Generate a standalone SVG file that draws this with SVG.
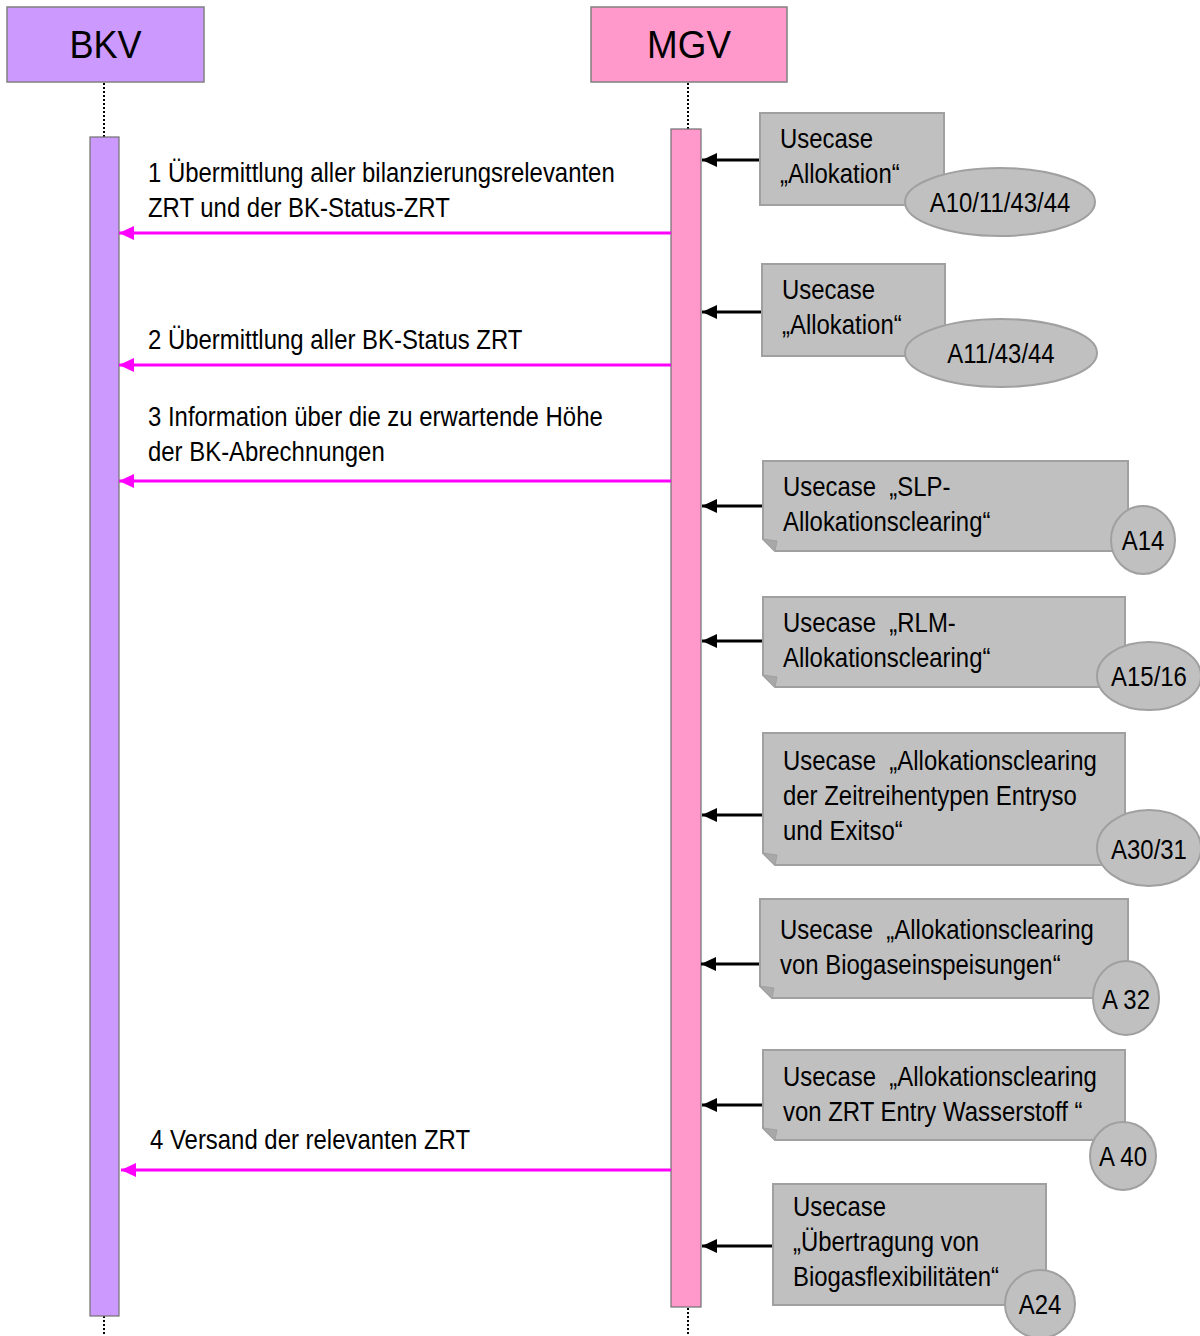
<svg xmlns="http://www.w3.org/2000/svg" width="1200" height="1336" viewBox="0 0 1200 1336">
<defs>
<marker id="mag" markerWidth="15" markerHeight="14" refX="15" refY="7" orient="auto" markerUnits="userSpaceOnUse"><path d="M0,0 L15,7 L0,14 Z" fill="#FF00FF"/></marker>
<marker id="blk" markerWidth="15" markerHeight="14" refX="15" refY="7" orient="auto" markerUnits="userSpaceOnUse"><path d="M0,0 L15,7 L0,14 Z" fill="#000"/></marker>
<style>
text{font-family:"Liberation Sans",Arial,sans-serif;fill:#000}
.t{font-size:28.5px}
.h{font-size:38px;text-anchor:middle}
.c{font-size:28.5px;text-anchor:middle}
.note{fill:#C0C0C0;stroke:#A0A0A0;stroke-width:2}
.fold{fill:#A8A8A8;stroke:#A0A0A0;stroke-width:1}
.badge{fill:#C0C0C0;stroke:#A0A0A0;stroke-width:2}
.life{stroke:#000;stroke-width:2;stroke-dasharray:2,2}
.msg{stroke:#FF00FF;stroke-width:3;fill:none;marker-end:url(#mag)}
.ref{stroke:#000;stroke-width:3;fill:none;marker-end:url(#blk)}
</style>
</defs>
<g id="lifelines">
<line class="life" x1="104" y1="83" x2="104" y2="137"/>
<line class="life" x1="104" y1="1316" x2="104" y2="1336"/>
<line class="life" x1="688" y1="83" x2="688" y2="129"/>
<line class="life" x1="688" y1="1308" x2="688" y2="1336"/>
</g>
<g id="BKV">
<rect x="7" y="7" width="197" height="75" fill="#CC99FF" stroke="#808080" stroke-width="1.5"/>
<text class="h" transform="translate(105.5,58) scale(0.95,1)">BKV</text>
<rect x="90" y="137" width="29" height="1179" fill="#CC99FF" stroke="#707070" stroke-width="1.2"/>
</g>
<g id="MGV">
<rect x="591" y="7" width="196" height="75" fill="#FF99CC" stroke="#808080" stroke-width="1.5"/>
<text class="h" transform="translate(689,58) scale(0.97,1)">MGV</text>
<rect x="671" y="129" width="30" height="1178" fill="#FF99CC" stroke="#707070" stroke-width="1.2"/>
</g>
<g id="connectors">
<line class="msg" x1="671" y1="233" x2="119" y2="233"/>
<line class="msg" x1="671" y1="365" x2="119" y2="365"/>
<line class="msg" x1="671" y1="481" x2="119" y2="481"/>
<line class="msg" x1="671" y1="1170" x2="121" y2="1170"/>
<line class="ref" x1="760" y1="160" x2="702" y2="160"/>
<line class="ref" x1="762" y1="312" x2="702" y2="312"/>
<line class="ref" x1="763" y1="506" x2="702" y2="506"/>
<line class="ref" x1="763" y1="641" x2="702" y2="641"/>
<line class="ref" x1="763" y1="815" x2="702" y2="815"/>
<line class="ref" x1="760" y1="964" x2="701" y2="964"/>
<line class="ref" x1="763" y1="1105" x2="702" y2="1105"/>
<line class="ref" x1="773" y1="1246" x2="702" y2="1246"/>
</g>
<g id="labels">
<text class="t" transform="translate(148,182) scale(0.84,1)">1 Übermittlung aller bilanzierungsrelevanten</text>
<text class="t" transform="translate(148,217) scale(0.84,1)">ZRT und der BK-Status-ZRT</text>
<text class="t" transform="translate(148,349) scale(0.84,1)">2 Übermittlung aller BK-Status ZRT</text>
<text class="t" transform="translate(148,426) scale(0.84,1)">3 Information über die zu erwartende Höhe</text>
<text class="t" transform="translate(148,461) scale(0.84,1)">der BK-Abrechnungen</text>
<text class="t" transform="translate(150,1149) scale(0.84,1)">4 Versand der relevanten ZRT</text>
</g>
<g id="note1">
<rect class="note" x="760" y="113" width="184" height="92"/>
<text class="t" transform="translate(780,148) scale(0.84,1)">Usecase</text>
<text class="t" transform="translate(780,183) scale(0.84,1)">„Allokation“</text>
<ellipse class="badge" cx="1000" cy="202" rx="95" ry="34"/>
<text class="c" transform="translate(1000,212) scale(0.84,1)">A10/11/43/44</text>
</g>
<g id="note2">
<rect class="note" x="762" y="264" width="183" height="92"/>
<text class="t" transform="translate(782,299) scale(0.84,1)">Usecase</text>
<text class="t" transform="translate(782,334) scale(0.84,1)">„Allokation“</text>
<ellipse class="badge" cx="1001" cy="353" rx="96" ry="34"/>
<text class="c" transform="translate(1001,363) scale(0.84,1)">A11/43/44</text>
</g>
<g id="note3">
<path class="note" d="M763,461 H1128 V551 H775 L763,539 Z"/>
<path class="fold" d="M763,539 L775,551 L777,541 Z"/>
<text class="t" transform="translate(783,496) scale(0.84,1)">Usecase&#160; „SLP-</text>
<text class="t" transform="translate(783,531) scale(0.84,1)">Allokationsclearing“</text>
<ellipse class="badge" cx="1143" cy="540" rx="32" ry="34"/>
<text class="c" transform="translate(1143,550) scale(0.84,1)">A14</text>
</g>
<g id="note4">
<path class="note" d="M763,597 H1125 V687 H775 L763,675 Z"/>
<path class="fold" d="M763,675 L775,687 L777,677 Z"/>
<text class="t" transform="translate(783,632) scale(0.84,1)">Usecase&#160; „RLM-</text>
<text class="t" transform="translate(783,667) scale(0.84,1)">Allokationsclearing“</text>
<ellipse class="badge" cx="1149" cy="676" rx="52" ry="34"/>
<text class="c" transform="translate(1149,686) scale(0.84,1)">A15/16</text>
</g>
<g id="note5">
<path class="note" d="M763,733 H1125 V865 H775 L763,853 Z"/>
<path class="fold" d="M763,853 L775,865 L777,855 Z"/>
<text class="t" transform="translate(783,770) scale(0.84,1)">Usecase&#160; „Allokationsclearing</text>
<text class="t" transform="translate(783,805) scale(0.84,1)">der Zeitreihentypen Entryso</text>
<text class="t" transform="translate(783,840) scale(0.84,1)">und Exitso“</text>
<ellipse class="badge" cx="1149" cy="848" rx="52" ry="38"/>
<text class="c" transform="translate(1149,859) scale(0.84,1)">A30/31</text>
</g>
<g id="note6">
<path class="note" d="M760,899 H1128 V998 H772 L760,986 Z"/>
<path class="fold" d="M760,986 L772,998 L774,988 Z"/>
<text class="t" transform="translate(780,939) scale(0.84,1)">Usecase&#160; „Allokationsclearing</text>
<text class="t" transform="translate(780,974) scale(0.84,1)">von Biogaseinspeisungen“</text>
<ellipse class="badge" cx="1126" cy="998" rx="33" ry="37"/>
<text class="c" transform="translate(1126,1009) scale(0.84,1)">A 32</text>
</g>
<g id="note7">
<path class="note" d="M763,1050 H1125 V1140 H775 L763,1128 Z"/>
<path class="fold" d="M763,1128 L775,1140 L777,1130 Z"/>
<text class="t" transform="translate(783,1086) scale(0.84,1)">Usecase&#160; „Allokationsclearing</text>
<text class="t" transform="translate(783,1121) scale(0.84,1)">von ZRT Entry Wasserstoff “</text>
<ellipse class="badge" cx="1123" cy="1156" rx="33" ry="34"/>
<text class="c" transform="translate(1123,1166) scale(0.84,1)">A 40</text>
</g>
<g id="note8">
<rect class="note" x="773" y="1184" width="273" height="121"/>
<text class="t" transform="translate(793,1216) scale(0.84,1)">Usecase</text>
<text class="t" transform="translate(793,1251) scale(0.84,1)">„Übertragung von</text>
<text class="t" transform="translate(793,1286) scale(0.84,1)">Biogasflexibilitäten“</text>
<ellipse class="badge" cx="1040" cy="1304" rx="35" ry="34"/>
<text class="c" transform="translate(1040,1314) scale(0.84,1)">A24</text>
</g>
</svg>
